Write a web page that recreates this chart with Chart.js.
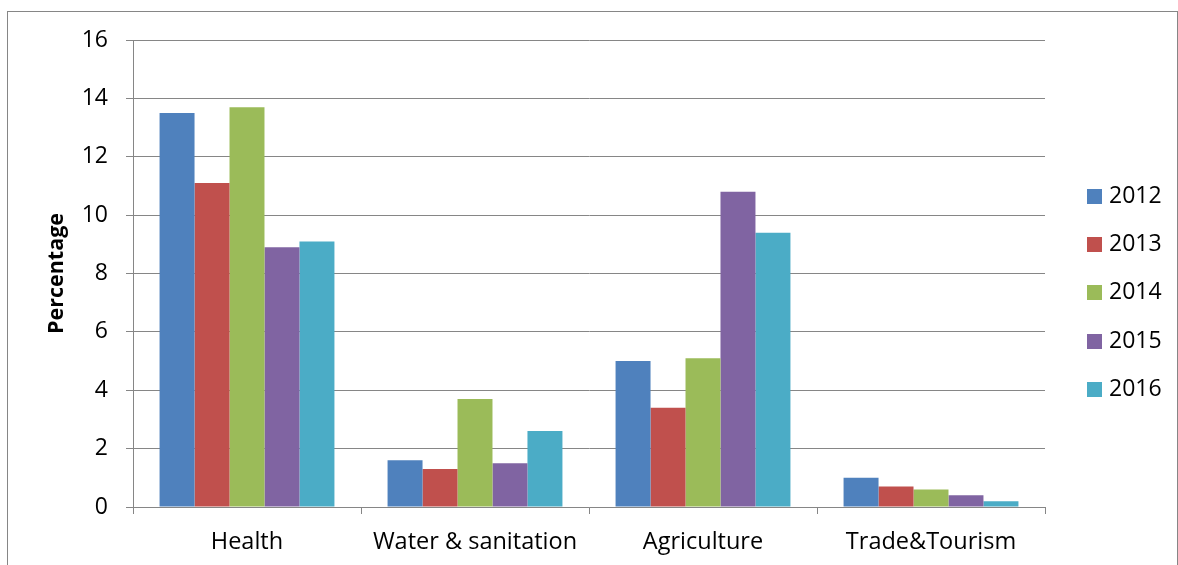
<!DOCTYPE html>
<html>
<head>
<meta charset="utf-8">
<script src="https://cdn.jsdelivr.net/npm/chart.js@4.4.1/dist/chart.umd.min.js"></script>
<style>
  html, body { margin: 0; padding: 0; background: #fff; }
  #wrap { width: 1178px; height: 565px; }
</style>
</head>
<body>
<div id="wrap"><canvas id="myChart" width="1178" height="565"></canvas></div>
<script>
const sectores = ["Health", "Water & sanitation", "Agriculture", "Trade&Tourism"];
const anios = ["2012", "2013", "2014", "2015", "2016"];
const colores = ["#4F81BD", "#C0504D", "#9BBB59", "#8064A2", "#4BACC6"];

const v2012 = [13.5, 1.6, 5.0, 1.0];
const v2013 = [11.1, 1.3, 3.4, 0.7];
const v2014 = [13.7, 3.7, 5.1, 0.6];
const v2015 = [8.9, 1.5, 10.8, 0.4];
const v2016 = [9.1, 2.6, 9.4, 0.2];

const series = [v2012, v2013, v2014, v2015, v2016];
const yTicks = [0, 2, 4, 6, 8, 10, 12, 14, 16];

const fuente = "'Open Sans', Lato, sans-serif";
const gris = "#868686";

// marco gris alrededor del grafico
const marco = {
  id: "marco",
  beforeDraw(chart) {
    const ctx = chart.ctx;
    ctx.save();
    ctx.strokeStyle = gris;
    ctx.lineWidth = 1;
    ctx.strokeRect(7.5, 11.5, 1170, 600);
    ctx.restore();
  }
};

// leyenda vertical a la derecha
const leyenda = {
  id: "leyenda",
  afterDraw(chart) {
    const ctx = chart.ctx;
    ctx.save();
    ctx.font = "23px " + fuente;
    ctx.textBaseline = "middle";
    chart.data.datasets.forEach((ds, i) => {
      let y = 196.5 + i * 48.2;
      ctx.fillStyle = ds.backgroundColor;
      ctx.fillRect(1087, Math.round(y - 7.5), 15, 15);
      ctx.fillStyle = "#000";
      ctx.fillText(ds.label, 1109, y);
    });
    ctx.restore();
  }
};

let datasets = anios.map((a, i) => ({
  label: a,
  data: series[i],
  backgroundColor: colores[i],
  borderWidth: 0,
  categoryPercentage: 0.767,
  barPercentage: 1
}));

const config = {
  type: "bar",
  data: { labels: sectores, datasets },
  options: {
    responsive: false,
    animation: false,
    layout: { padding: { top: 40, right: 133, left: 0, bottom: 0 } },
    plugins: {
      legend: { display: false },
      tooltip: { enabled: false }
    },
    scales: {
      x: {
        grid: {
          offset: true,
          drawOnChartArea: false,
          drawTicks: true,
          tickLength: 7,
          color: gris
        },
        border: { color: gris, width: 1 },
        ticks: {
          color: "#000",
          font: { family: fuente, size: 23.5 },
          padding: 14,
          maxRotation: 0
        },
        afterFit(scale) { scale.height = 58; }
      },
      y: {
        min: 0,
        max: 16,
        afterBuildTicks(scale) { scale.ticks = yTicks.map(v => ({ value: v })); },
        grid: { color: gris, tickLength: 7 },
        border: { color: gris, width: 1 },
        ticks: {
          color: "#000",
          font: { family: fuente, size: 23 },
          padding: 18
        },
        title: {
          display: true,
          text: "Percentage",
          color: "#000",
          font: { family: fuente, size: 21.5, weight: "bold" },
          padding: { top: 44, bottom: 0 }
        },
        afterFit(scale) { scale.width = 133; }
      }
    }
  },
  plugins: [marco, leyenda]
};

const myChart = new Chart(document.getElementById("myChart"), config);
</script>
</body>
</html>
